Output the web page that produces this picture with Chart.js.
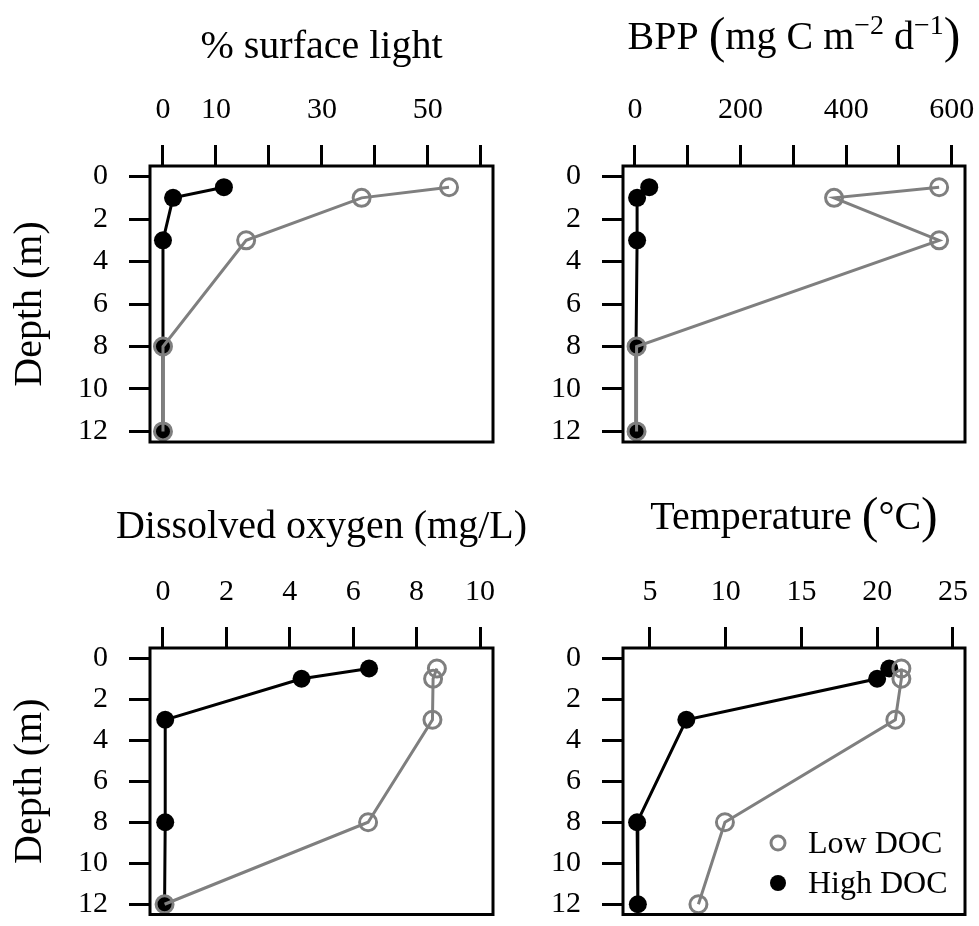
<!DOCTYPE html>
<html><head><meta charset="utf-8">
<script src="https://cdn.jsdelivr.net/npm/chart.js@4.4.1/dist/chart.umd.min.js"></script>
<style>
html,body{margin:0;padding:0;background:#fff;}
body{width:979px;height:926px;position:relative;overflow:hidden;}
canvas{position:absolute;}
</style></head><body>
<canvas id="c1" width="545" height="460" style="left:0;top:0"></canvas>
<canvas id="c2" width="489" height="460" style="left:490px;top:0"></canvas>
<canvas id="c3" width="545" height="466" style="left:0;top:460px"></canvas>
<canvas id="c4" width="489" height="466" style="left:490px;top:460px"></canvas>
<script>
// ---- data ----
const depth = [0.5, 1, 3, 8, 12];
const depthTicks = [0, 2, 4, 6, 8, 10, 12];

const lightLow  = [54, 37.5, 15.7, 0, 0];
const lightHigh = [11.5, 1.9, 0, 0, 0];
const lightTicks  = [0, 10, 20, 30, 40, 50, 60];
const lightLabels = ['0', '10', '', '30', '', '50', ''];

const bppLow  = [576, 377, 576, 3, 3];
const bppHigh = [27, 4, 4, 2, 2];
const bppTicks  = [0, 100, 200, 300, 400, 500, 600];
const bppLabels = ['0', '', '200', '', '400', '', '600'];

const doLow  = [8.64, 8.52, 8.5, 6.47, 0.05];
const doHigh = [6.5, 4.37, 0.07, 0.07, 0.05];
const doTicks  = [0, 2, 4, 6, 8, 10];
const doLabels = ['0', '2', '4', '6', '8', '10'];

const tempLow  = [21.6, 21.6, 21.2, 9.95, 8.2];
const tempHigh = [20.8, 20.0, 7.4, 4.15, 4.2];
const tempTicks  = [5, 10, 15, 20, 25];
const tempLabels = ['5', '10', '15', '20', '25'];

const seriesNames = ['Low DOC', 'High DOC'];

// ---- style ----
const FONT = "'Liberation Serif', 'Times New Roman', Times, serif";
const GRAY = '#7f7f7f';
const LW = 3;

function drawRich(ctx, parts, cx, base) {
  let w = 0;
  parts.forEach(p => { ctx.font = p.s + 'px ' + FONT; p.w = ctx.measureText(p.t).width; w += p.w; });
  let x = cx - w / 2;
  ctx.textAlign = 'left'; ctx.textBaseline = 'alphabetic'; ctx.fillStyle = '#000';
  parts.forEach(p => { ctx.font = p.s + 'px ' + FONT; ctx.fillText(p.t, x, base + (p.dy || 0)); x += p.w; });
}

function makeChart(id, o) {
  const cv = document.getElementById(id);
  const W = cv.width, H = cv.height;
  const a = o.area;
  const deco = {
    id: 'deco',
    afterDraw(chart) {
      const ctx = chart.ctx, ca = chart.chartArea;
      ctx.save();
      ctx.strokeStyle = '#000'; ctx.lineWidth = LW;
      ctx.strokeRect(ca.left, ca.top, ca.right - ca.left, ca.bottom - ca.top);
      drawRich(ctx, o.title, (ca.left + ca.right) / 2, o.titleBase);
      if (o.ylabel) {
        ctx.save();
        ctx.translate(41, (ca.top + ca.bottom) / 2);
        ctx.rotate(-Math.PI / 2);
        ctx.font = '40px ' + FONT; ctx.textAlign = 'center'; ctx.textBaseline = 'alphabetic';
        ctx.fillStyle = '#000';
        ctx.fillText('Depth (m)', 0, 0);
        ctx.restore();
      }
      if (o.legend) {
        const L = o.legend;
        ctx.font = '32px ' + FONT; ctx.textAlign = 'left'; ctx.textBaseline = 'alphabetic'; ctx.fillStyle = '#000';
        ctx.beginPath(); ctx.arc(L.x, L.y1, 7, 0, Math.PI * 2);
        ctx.strokeStyle = GRAY; ctx.lineWidth = LW; ctx.stroke();
        ctx.fillText(seriesNames[0], L.x + 30, L.y1 + 10);
        ctx.beginPath(); ctx.arc(L.x, L.y2, 8, 0, Math.PI * 2);
        ctx.fillStyle = '#000'; ctx.fill();
        ctx.fillText(seriesNames[1], L.x + 30, L.y2 + 10);
      }
      ctx.restore();
    }
  };
  const ticksFont = { family: FONT, size: 30 };
  const zeroPad = s => { s.paddingLeft = 0; s.paddingRight = 0; s.paddingTop = 0; s.paddingBottom = 0; };
  return new Chart(cv, {
    type: 'scatter',
    data: {
      datasets: [
        { label: seriesNames[0], data: depth.map((d, i) => ({ x: o.low[i], y: d })),
          showLine: true, borderColor: GRAY, borderWidth: LW, pointRadius: 8.5, pointBorderWidth: LW,
          pointBackgroundColor: 'rgba(0,0,0,0)', pointBorderColor: GRAY, backgroundColor: 'rgba(0,0,0,0)' },
        { label: seriesNames[1], data: depth.map((d, i) => ({ x: o.high[i], y: d })),
          showLine: true, borderColor: '#000', borderWidth: LW, pointRadius: 9, pointBorderWidth: 0,
          pointBackgroundColor: '#000', pointBorderColor: '#000', backgroundColor: '#000' }
      ]
    },
    options: {
      responsive: false, animation: false, devicePixelRatio: 1,
      layout: { padding: { left: 0, top: 0, right: W - a.right, bottom: H - a.bottom } },
      plugins: { legend: { display: false }, tooltip: { enabled: false }, title: { display: false } },
      scales: {
        x: {
          type: 'linear', position: 'top', min: o.xMin, max: o.xMax,
          afterBuildTicks: s => { s.ticks = o.xTicks.map(v => ({ value: v })); },
          afterFit: s => { s.height = a.top; zeroPad(s); },
          ticks: { autoSkip: false, maxRotation: 0, minRotation: 0, font: ticksFont, color: '#000', padding: 17,
                   callback: v => o.xLabels[o.xTicks.indexOf(v)] },
          grid: { drawOnChartArea: false, drawTicks: true, tickLength: 21, color: '#000', lineWidth: LW, tickColor: '#000', tickWidth: LW },
          border: { display: false }
        },
        y: {
          type: 'linear', position: 'left', reverse: true, min: -0.5, max: 12.5,
          afterBuildTicks: s => { s.ticks = depthTicks.map(v => ({ value: v })); },
          afterFit: s => { s.width = a.left; zeroPad(s); },
          ticks: { autoSkip: false, font: ticksFont, color: '#000', padding: 21,
                   callback: v => String(v) },
          grid: { drawOnChartArea: false, drawTicks: true, tickLength: 21, color: '#000', lineWidth: LW, tickColor: '#000', tickWidth: LW },
          border: { display: false }
        }
      }
    },
    plugins: [deco]
  });
}

makeChart('c1', {
  low: lightLow, high: lightHigh, xMin: -2.45, xMax: 62.3, xTicks: lightTicks, xLabels: lightLabels,
  area: { left: 150, top: 166, right: 493, bottom: 442 },
  title: [{ t: '% surface light', s: 40 }], titleBase: 58, ylabel: true
});
makeChart('c2', {
  low: bppLow, high: bppHigh, xMin: -22.7, xMax: 625, xTicks: bppTicks, xLabels: bppLabels,
  area: { left: 133, top: 166, right: 475, bottom: 442 },
  title: [{ t: 'BPP ', s: 40 }, { t: '(', s: 50, dy: 3 }, { t: 'mg C m', s: 40 }, { t: '\u22122', s: 28, dy: -15 },
          { t: ' d', s: 40 }, { t: '\u22121', s: 28, dy: -15 }, { t: ')', s: 50, dy: 3 }],
  titleBase: 49, ylabel: false
});
makeChart('c3', {
  low: doLow, high: doHigh, xMin: -0.41, xMax: 10.41, xTicks: doTicks, xLabels: doLabels,
  area: { left: 150, top: 188, right: 493, bottom: 463 },
  title: [{ t: 'Dissolved oxygen (mg/L)', s: 40 }], titleBase: 78, ylabel: true
});
makeChart('c4', {
  low: tempLow, high: tempHigh, xMin: 3.22, xMax: 25.8, xTicks: tempTicks, xLabels: tempLabels,
  area: { left: 133, top: 188, right: 475, bottom: 463 },
  title: [{ t: 'Temperature ', s: 40 }, { t: '(', s: 50, dy: 3 }, { t: '\u00b0C', s: 40 }, { t: ')', s: 50, dy: 3 }],
  titleBase: 69, ylabel: false,
  legend: { x: 288, y1: 383, y2: 423 }
});
</script>
</body></html>
